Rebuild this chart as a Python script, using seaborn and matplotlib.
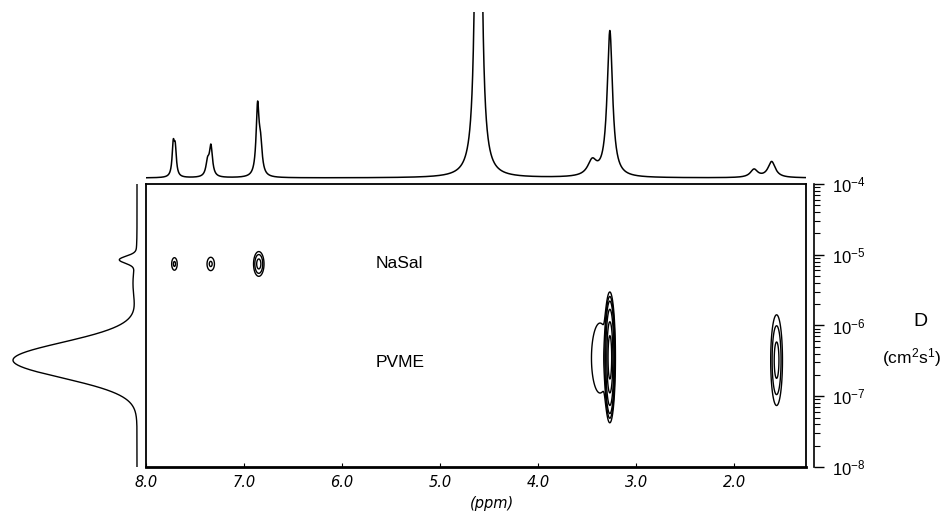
import numpy as np
import matplotlib
matplotlib.use('Agg')
import matplotlib.pyplot as plt
import seaborn as sns
import pandas as pd
from matplotlib.ticker import LogLocator, NullLocator, NullFormatter, LogFormatterSciNotation

# ---- 1D 1H spectrum (top trace): peak positions (ppm), heights, half widths
spec_ppm    = [7.722, 7.702, 7.372, 7.338, 6.862, 6.832, 4.61, 3.45, 3.27, 1.80, 1.62]
spec_height = [30, 26, 14, 30, 68, 28, 1100, 15, 146, 8.0, 16]
spec_hwhm   = [0.014, 0.014, 0.02, 0.019, 0.018, 0.02, 0.019, 0.055, 0.033, 0.045, 0.045]

# ---- 2D DOSY cross peaks: ppm, log10(D), amplitude, widths
dosy_ppm   = [7.71, 7.34, 6.85, 3.27, 3.37, 1.57]
dosy_logD  = [-5.13, -5.13, -5.13, -6.45, -6.46, -6.49]
dosy_amp   = [2.0, 2.0, 4.0, 100.0, 1.7, 4.0]
dosy_wppm  = [0.024, 0.032, 0.032, 0.018, 0.085, 0.036]
dosy_wlogD = [0.075, 0.080, 0.105, 0.300, 0.480, 0.385]
contour_levels = [1, 1.8, 3.2, 8, 25, 60]

# ---- projection on the diffusion axis (left trace)
proj_logD   = [-5.07, -5.40, -6.49]
proj_height = [16, 4, 124]
proj_sigma  = [0.05, 0.25, 0.25]

# ---- axis ticks / labels
x_ticks = [8.0, 7.0, 6.0, 5.0, 4.0, 3.0, 2.0]
x_tick_labels = ['8.0', '7.0', '6.0', '5.0', '4.0', '3.0', '2.0']
x_range = (8.0, 1.27)
d_range = (1e-8, 1e-4)
labels_text = ['NaSal', 'PVME']
labels_logD = [-5.12, -6.52]
labels_ppm = 5.66

sns.set_style('white')
plt.rcParams['font.family'] = ['Liberation Sans', 'DejaVu Sans']
plt.rcParams['mathtext.default'] = 'regular'
for k in ['text.color', 'axes.labelcolor', 'xtick.color', 'ytick.color', 'axes.edgecolor']:
    plt.rcParams[k] = 'black'

W, H = 950, 511
fig = plt.figure(figsize=(W / 100, H / 100), dpi=100)


def box(x0, y0, x1, y1):
    return [x0 / W, 1 - y1 / H, (x1 - x0) / W, (y1 - y0) / H]


ax = fig.add_axes(box(146, 184, 806, 467))
ax_top = fig.add_axes(box(146, 12, 806, 183))
ax_left = fig.add_axes(box(0, 184, 141, 467))

# ---- top spectrum
ppm = np.linspace(x_range[0], x_range[1], 5000)
I = np.zeros_like(ppm)
for c, h, g in zip(spec_ppm, spec_height, spec_hwhm):
    I += h / (1 + ((ppm - c) / g) ** 2)
df_top = pd.DataFrame({'ppm': ppm, 'I': I})
sns.lineplot(data=df_top, x='ppm', y='I', ax=ax_top, color='black', lw=1.1,
             estimator=None, sort=False)
ax_top.set_xlim(*x_range)
ax_top.set_ylim(-5, 166)
ax_top.axis('off')

# ---- 2D contour map
ax.set_yscale('log')
gx = np.linspace(x_range[0], x_range[1], 2200)
gy = np.linspace(-8, -4, 900)
PX, LY = np.meshgrid(gx, gy)
Z = np.zeros_like(PX)
for c, d, a, wx, wy in zip(dosy_ppm, dosy_logD, dosy_amp, dosy_wppm, dosy_wlogD):
    Z += a * np.exp(-0.5 * ((PX - c) / wx) ** 2 - 0.5 * ((LY - d) / wy) ** 2)
ax.contour(PX, 10 ** LY, Z, levels=contour_levels, colors='black', linewidths=1.0)
ax.set_xlim(*x_range)
ax.set_ylim(*d_range)
ax.yaxis.set_major_locator(NullLocator())
ax.yaxis.set_minor_locator(NullLocator())
ax.set_xticks(x_ticks)
ax.set_xticklabels(x_tick_labels, fontstyle='italic', fontsize=10.5,
                   family=['DejaVu Sans'])
ax.tick_params(axis='x', bottom=True, direction='in', length=3, width=0.8, pad=6)
for s in ax.spines.values():
    s.set_color('black')
    s.set_linewidth(1.3)
ax.spines['bottom'].set_linewidth(2.0)
for t, ld in zip(labels_text, labels_logD):
    ax.text(labels_ppm, 10 ** ld, t, fontsize=12.5, ha='left', va='center')

# ---- right diffusion axis
ax2 = ax.twinx()
ax2.set_yscale('log')
ax2.set_ylim(*d_range)
for k in ['top', 'left', 'bottom']:
    ax2.spines[k].set_visible(False)
ax2.spines['right'].set_position(('outward', 5.8))
ax2.spines['right'].set_linewidth(1.2)
ax2.spines['right'].set_color('black')
ax2.yaxis.set_major_locator(LogLocator(base=10, numticks=10))
ax2.yaxis.set_minor_locator(LogLocator(base=10, subs=np.arange(2, 10), numticks=10))
ax2.yaxis.set_major_formatter(LogFormatterSciNotation())
ax2.yaxis.set_minor_formatter(NullFormatter())
ax2.tick_params(axis='y', which='major', right=True, direction='out', length=7,
                width=1.0, labelsize=12, pad=6)
ax2.tick_params(axis='y', which='minor', right=True, direction='out', length=4,
                width=0.8)

fig.text(920 / W, 1 - 322 / H, 'D', fontsize=14, ha='center', va='center')
fig.text(912 / W, 1 - 358 / H, '(cm$^2$s$^1$)', fontsize=12.5, ha='center', va='center')
fig.text(492 / W, 1 - 503 / H, '(ppm)', fontsize=10.5, fontstyle='italic',
         ha='center', va='center', family=['DejaVu Sans'])

# ---- left projection
ax_left.set_yscale('log')
ly = np.linspace(-8.05, -4.0, 1500)
P = np.zeros_like(ly)
for c, h, s in zip(proj_logD, proj_height, proj_sigma):
    P += h * np.exp(-0.5 * ((ly - c) / s) ** 2)
df_left = pd.DataFrame({'D': 10 ** ly, 'P': P})
sns.lineplot(data=df_left, x='P', y='D', ax=ax_left, orient='y', color='black',
             lw=1.0, estimator=None, sort=False)
ax_left.set_xlim(137, -4)
ax_left.set_ylim(*d_range)
ax_left.axis('off')

fig.savefig('out.png', dpi=100)
